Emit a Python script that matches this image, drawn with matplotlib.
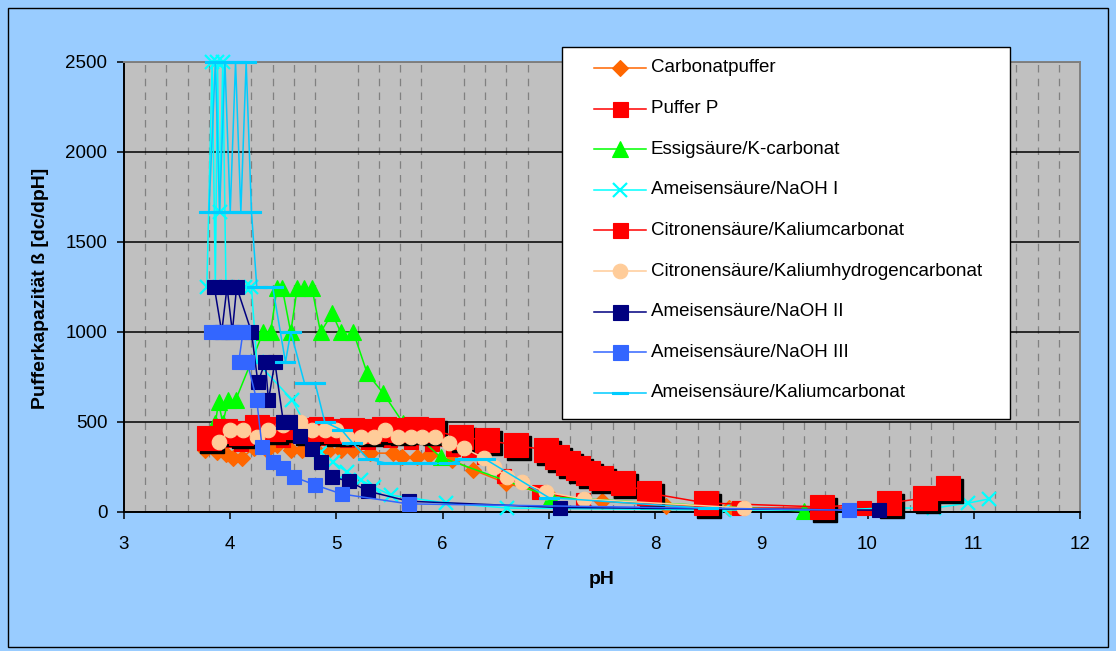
import numpy as np
import matplotlib
matplotlib.use('Agg')
import matplotlib.pyplot as plt
import matplotlib.transforms as mtransforms
from matplotlib.lines import Line2D
from matplotlib.patches import Rectangle

plt.rcParams['font.family'] = ['Liberation Sans', 'DejaVu Sans']

# ---- data (pH, buffer capacity) ----
carbonat_ph = [3.76, 3.88, 3.96, 4.03, 4.11, 4.22, 4.35, 4.44, 4.57, 4.68, 4.80, 4.92, 5.04,
               5.16, 5.32, 5.53, 5.62, 5.76, 5.87, 6.09, 6.29, 6.60, 7.00, 7.50, 8.10, 8.70]
carbonat_val = [344, 333, 320, 300, 300, 355, 344, 372, 344, 344, 350, 340, 345,
                344, 327, 327, 305, 305, 316, 289, 233, 160, 95, 60, 35, 20]

pufferp_ph = [3.80, 3.95, 4.10, 4.30, 4.50, 4.70, 4.90, 5.10, 5.30, 5.50, 5.70, 5.90,
              6.10, 6.25, 6.39, 6.58, 6.91, 7.32, 8.79, 9.97]
pufferp_val = [380, 400, 380, 420, 400, 420, 410, 400, 390, 400, 390, 380,
               350, 330, 305, 200, 111, 67, 22, 22]

essig_ph = [3.86, 3.89, 3.93, 3.98, 4.05, 4.31, 4.38, 4.44, 4.49, 4.57, 4.63, 4.69, 4.77,
            4.85, 4.96, 5.04, 5.16, 5.29, 5.44, 5.63, 5.98, 7.02, 9.40]
essig_val = [493, 610, 493, 620, 620, 998, 998, 1242, 1242, 998, 1242, 1242, 1242,
             998, 1103, 998, 998, 770, 660, 493, 305, 83, 5]

naoh1_ph = [3.78, 3.83, 3.86, 3.88, 3.90, 3.93, 3.96, 4.14, 4.20, 4.25, 4.58, 4.85, 4.97,
            5.10, 5.23, 5.35, 5.51, 6.03, 6.61, 8.65, 9.64, 10.18, 10.63, 10.95, 11.14]
naoh1_val = [1250, 2500, 1250, 2500, 1667, 2500, 1250, 1250, 1250, 833, 625, 333, 277,
             222, 177, 140, 94, 50, 22, 11, 11, 22, 22, 50, 72]

citk_ph = [3.80, 3.95, 4.10, 4.25, 4.40, 4.55, 4.70, 4.85, 5.00, 5.15, 5.30, 5.45, 5.60,
           5.75, 5.90, 6.17, 6.42, 6.69, 6.97, 7.08, 7.18, 7.27, 7.37, 7.49, 7.70, 7.94,
           8.48, 9.57, 10.20, 10.54, 10.76]
citk_val = [410, 450, 440, 470, 460, 470, 455, 460, 450, 455, 450, 460, 455,
            460, 455, 415, 400, 370, 345, 305, 272, 244, 216, 188, 161, 105,
            50, 28, 50, 78, 133]

citkh_ph = [3.89, 4.00, 4.12, 4.25, 4.36, 4.50, 4.66, 4.77, 4.89, 5.00, 5.10, 5.23, 5.35,
            5.46, 5.58, 5.70, 5.81, 5.93, 6.06, 6.20, 6.39, 6.48, 6.61, 6.75, 6.97, 7.33, 8.84]
citkh_val = [388, 455, 455, 416, 455, 482, 499, 455, 455, 455, 416, 416, 416,
             455, 416, 416, 416, 416, 382, 355, 299, 249, 194, 166, 111, 72, 22]

naoh2_ph = [3.85, 3.92, 3.97, 4.02, 4.06, 4.20, 4.26, 4.33, 4.36, 4.42, 4.50, 4.56, 4.66,
            4.77, 4.85, 4.96, 5.12, 5.30, 5.68, 7.10, 10.11]
naoh2_val = [1250, 1000, 1250, 1000, 1250, 1000, 720, 833, 620, 833, 500, 500, 420,
             350, 280, 195, 170, 115, 60, 25, 10]

naoh3_ph = [3.82, 3.90, 3.98, 4.05, 4.12, 4.08, 4.16, 4.25, 4.30, 4.40, 4.50, 4.60, 4.80,
            5.05, 5.68, 9.83]
naoh3_val = [1000, 1000, 1000, 1000, 1000, 833, 833, 620, 360, 280, 245, 195, 150,
             100, 45, 10]

kcarb_ph = [3.80, 3.86, 3.90, 3.95, 4.00, 4.05, 4.10, 4.15, 4.20, 4.25, 4.40, 4.52, 4.57,
            4.70, 4.80, 4.89, 5.05, 5.15, 5.30, 5.48, 5.67, 5.84, 6.06, 6.21, 6.40, 7.00, 8.50]
kcarb_val = [1667, 2500, 1667, 2500, 1667, 2500, 1667, 2500, 1667, 1250, 1250, 833, 1000,
             714, 714, 500, 455, 385, 294, 270, 270, 270, 270, 294, 294, 80, 20]

labels = ['Carbonatpuffer', 'Puffer P', 'Essigsäure/K-carbonat', 'Ameisensäure/NaOH I',
          'Citronensäure/Kaliumcarbonat', 'Citronensäure/Kaliumhydrogencarbonat',
          'Ameisensäure/NaOH II', 'Ameisensäure/NaOH III', 'Ameisensäure/Kaliumcarbonat']

W, H = 1116, 651
dash = [(-1, -0.13), (1, -0.13), (1, 0.13), (-1, 0.13), (-1, -0.13)]

# style per series: colour, marker, plot size, legend size
styles = [
    ('#FF6600', 'D', 8.5, 8.5),
    ('#FF0000', 's', 10.5, 10.8),
    ('#00FF00', '^', 11, 11),
    ('#00FFFF', 'x', 10, 10),
    ('#FF0000', 's', 17, 10.8),
    ('#FFCC99', 'o', 10.5, 10.5),
    ('#000080', 's', 10.5, 10.8),
    ('#3366FF', 's', 10.5, 10.8),
    ('#00CCFF', dash, 14, 11),
]
series = [(carbonat_ph, carbonat_val), (pufferp_ph, pufferp_val), (essig_ph, essig_val),
          (naoh1_ph, naoh1_val), (citk_ph, citk_val), (citkh_ph, citkh_val),
          (naoh2_ph, naoh2_val), (naoh3_ph, naoh3_val), (kcarb_ph, kcarb_val)]

fig = plt.figure(figsize=(W / 100, H / 100), dpi=100, facecolor='#99CCFF')
ax = fig.add_axes([124 / W, 1 - 512 / H, (1080 - 124) / W, (512 - 62) / H])
ax.set_facecolor('#C0C0C0')

shadow = mtransforms.offset_copy(ax.transData, fig=fig, x=3, y=-3, units='dots')

for i, ((xs, ys), (col, mk, ms, lms)) in enumerate(zip(series, styles)):
    z = 3 + i
    mew = 1.6 if mk == 'x' else 0.8
    if i == 4:
        # Excel shadow behind the big red squares
        ax.plot(xs, ys, linestyle='none', marker='s', ms=ms, color='black',
                transform=shadow, zorder=z - 0.5, clip_on=False)
    ax.plot(xs, ys, color=col, lw=1.1, marker=mk, ms=ms, mfc=col, mec=col, mew=mew,
            zorder=z, clip_on=False)

ax.set_xlim(3, 12)
ax.set_ylim(0, 2500)
ax.set_xticks(range(3, 13))
ax.set_yticks(range(0, 2501, 500))
ax.set_xticks(np.arange(3, 12.001, 0.2), minor=True)
ax.tick_params(axis='x', which='minor', length=0)
ax.grid(which='minor', axis='x', color='#808080', lw=0.9, linestyle=(0, (6, 5)))
ax.grid(which='major', axis='y', color='black', lw=1.1)
ax.set_axisbelow(True)
ax.tick_params(axis='both', which='major', direction='out', length=5, width=1.1,
               labelsize=13.5, colors='black')
ax.tick_params(axis='x', pad=12)
ax.tick_params(axis='y', pad=7)

for side in ['left', 'bottom']:
    ax.spines[side].set_color('black')
    ax.spines[side].set_linewidth(1.4)
for side in ['top', 'right']:
    ax.spines[side].set_color('#808080')
    ax.spines[side].set_linewidth(1.4)

fig.text(602 / W, 1 - 580 / H, 'pH', fontsize=14, fontweight='bold', ha='center', va='center')
fig.text(41 / W, 1 - 288 / H, 'Pufferkapazität ß [dc/dpH]', fontsize=14, fontweight='bold',
         rotation=90, ha='center', va='center')

# legend box, drawn by hand to match the Excel layout
fig.add_artist(Rectangle((562 / W, 1 - 419 / H), (1010 - 562) / W, (419 - 47) / H,
                         transform=fig.transFigure, facecolor='white', edgecolor='black',
                         lw=1.0, zorder=5))
for i, (lab, (col, mk, ms, lms)) in enumerate(zip(labels, styles)):
    yc = 1 - (68 + i * 40.6) / H
    mew = 1.6 if mk == 'x' else 0.8
    fig.add_artist(Line2D([594 / W, 646 / W], [yc, yc], color=col, lw=1.1,
                          transform=fig.transFigure, zorder=6))
    fig.add_artist(Line2D([620 / W], [yc], color=col, marker=mk, ms=lms, mfc=col, mec=col,
                          mew=mew, transform=fig.transFigure, zorder=7))
    fig.text(651 / W, yc, lab, fontsize=13.5, ha='left', va='center', zorder=8)

# outer chart border
fig.add_artist(Rectangle((8 / W, 4 / H), (1108 - 8) / W, (643 - 4) / H,
                         transform=fig.transFigure, facecolor='none', edgecolor='black',
                         lw=1.0, zorder=1))

fig.savefig('out.png', dpi=100, facecolor=fig.get_facecolor())
